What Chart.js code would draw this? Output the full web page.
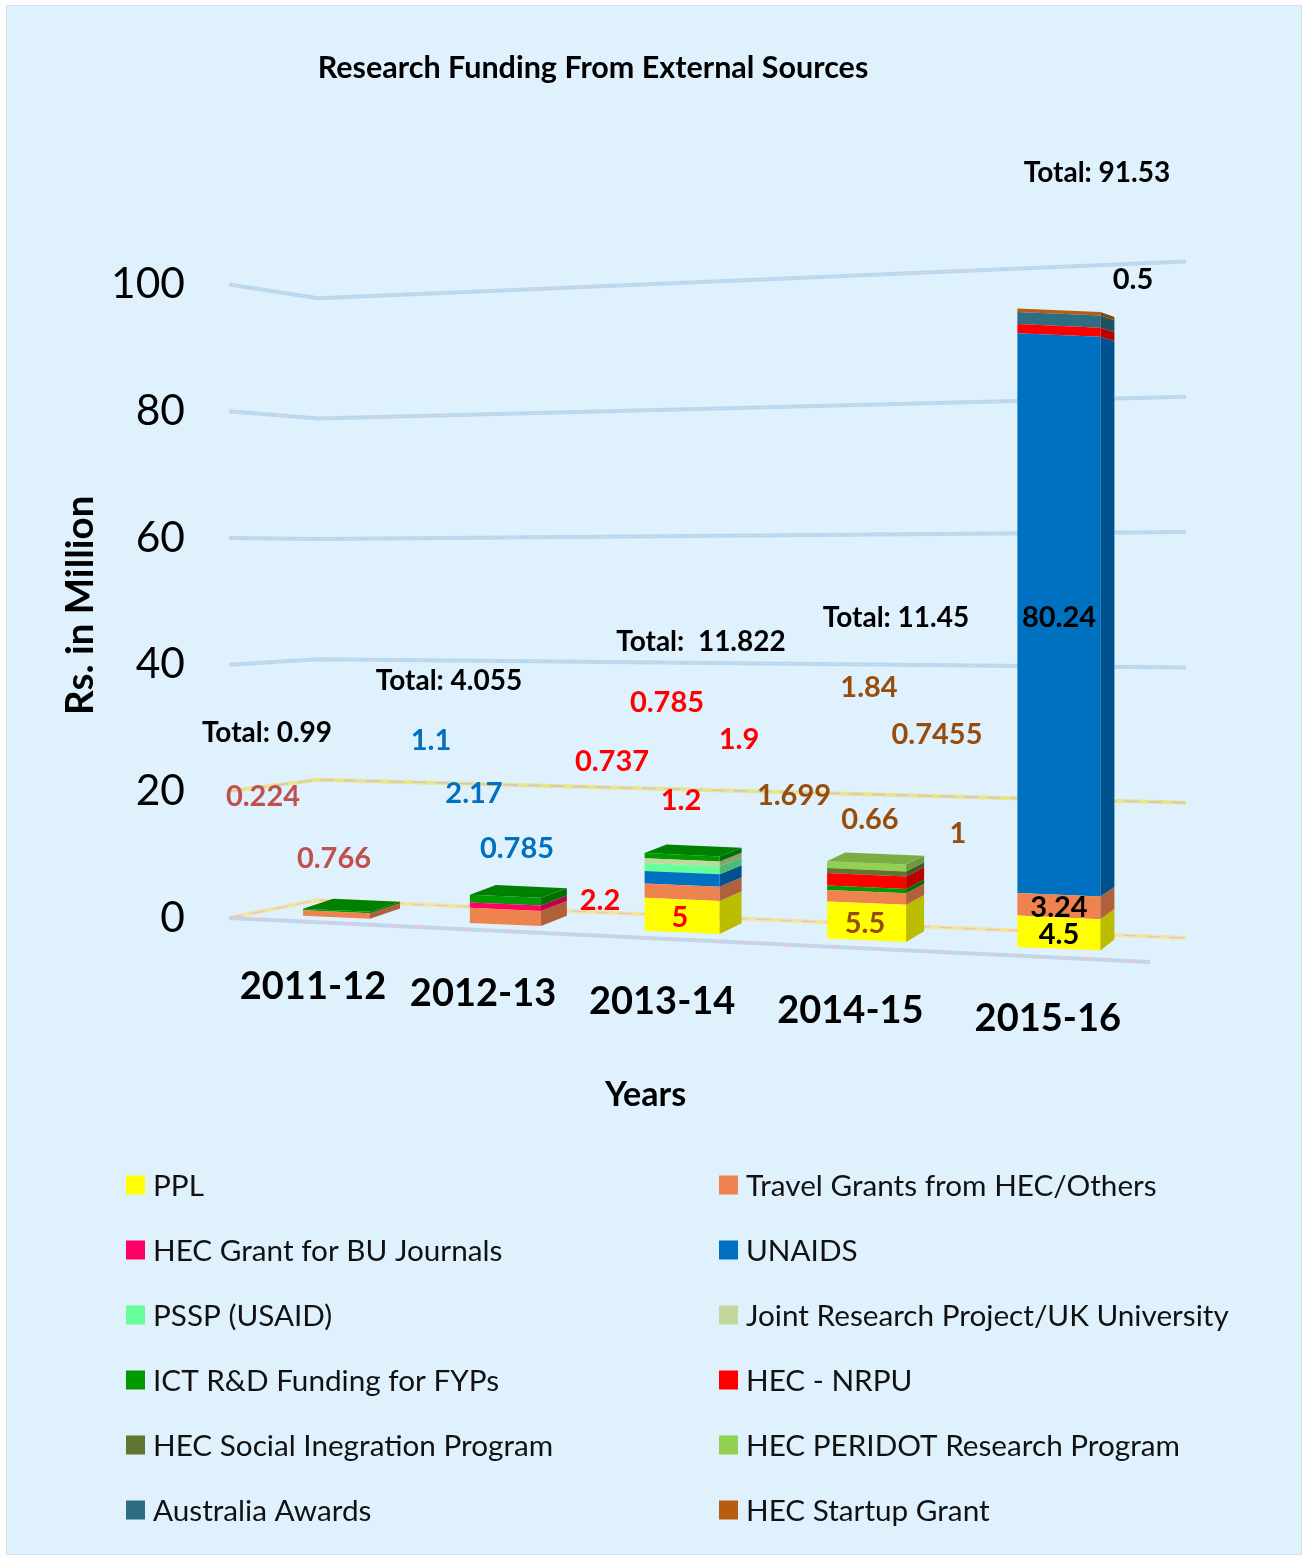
<!DOCTYPE html>
<html><head><meta charset="utf-8">
<script src="https://cdn.jsdelivr.net/npm/chart.js@4"></script>
<style>
html,body{margin:0;padding:0;background:#fff}
#frame{position:absolute;left:6px;top:5px;width:1296px;height:1550px;background:#dff1fd;border:1px solid #d3e0ea;box-sizing:border-box}
canvas{position:absolute;left:0;top:0}
</style></head><body>
<div id="frame"></div>
<canvas id="c" width="1306" height="1556" style="width:1306px;height:1556px"></canvas>
<script>
const categories=["2011-12","2012-13","2013-14","2014-15","2015-16"];
const ppl=[null,null,5,5.5,4.5];
const travelGrants=[0.766,2.17,2.2,1.699,3.24];
const buJournals=[null,0.785,null,null,null];
const unaids=[null,null,1.9,null,80.24];
const pssp=[null,null,1.2,null,null];
const jointResearch=[null,null,0.737,null,null];
const ictFunding=[0.224,1.1,0.785,0.66,null];
const nrpu=[null,null,null,1.84,1.3];
const socialIntegration=[null,null,null,0.7455,null];
const peridot=[null,null,null,1,null];
const australiaAwards=[null,null,null,null,1.75];
const startupGrant=[null,null,null,null,0.5];
const totals=["Total: 0.99","Total: 4.055","Total:  11.822","Total: 11.45","Total: 91.53"];
const yTicks=[0,20,40,60,80,100];

const seriesNames=["PPL","Travel Grants from HEC/Others","HEC Grant for BU Journals","UNAIDS","PSSP (USAID)","Joint Research Project/UK University","ICT R&D Funding for FYPs","HEC - NRPU","HEC Social Inegration Program","HEC PERIDOT Research Program","Australia Awards","HEC Startup Grant"];
const seriesValues=[ppl,travelGrants,buJournals,unaids,pssp,jointResearch,ictFunding,nrpu,socialIntegration,peridot,australiaAwards,startupGrant];
const seriesColors=["#ffff00","#ee8350","#ff0066","#0070c0","#66ff99","#c3d69b","#009900","#ff0000","#5f7530","#92d050","#2d6e82","#b85c10"];

// annotation layout: [series index, category index, x, y]
const valueLabelPlaces=[[6,0,263,797],[1,0,334,859],
 [6,1,431,741],[1,1,474,794],[2,1,517,849],
 [6,2,667,703],[3,2,739,740],[5,2,612,762],[4,2,681,801],[1,2,600,901],[0,2,680,918],
 [7,3,869,688],[8,3,937,735],[1,3,794,796],[6,3,870,820],[9,3,958,834],[0,3,865,924],
 [11,4,1133,280],[3,4,1059,618],[1,4,1059,908],[0,4,1059,935]];
const categoryLabelColors=["#c0504d","#0070c0","#ff0000","#974c0c","#000000"];
const totalPlaces=[[267,733],[449,681],[701,642],[896,618],[1097,173]];

const FONT="Lato";
const SKEW=0.0437, SKEW_X=355.6;      // floor slope of the picture
const EYE=509, DEPTH_K=0.0249;        // receding edge slope
const DEPTH_SCALE=[1,1,0.94,0.97,1];  // foreshortening of the mid-depth columns
const lift=(x,y)=>y+SKEW*(x-SKEW_X);
const dark=(hex,f)=>{const n=parseInt(hex.slice(1),16);return `rgb(${(n>>16&255)*f|0},${(n>>8&255)*f|0},${(n&255)*f|0})`};

const perspective={
 id:"perspective",
 afterDatasetsUpdate(chart){
  const floor=chart.chartArea.bottom;
  chart.data.datasets.forEach((d,di)=>{
   chart.getDatasetMeta(di).data.forEach((el,i)=>{
    el.x=336.5+165*i+3.9*i*i;
    el.width=67+4*i;
    el.y=floor+(el.y-floor)*DEPTH_SCALE[i];
    el.base=floor+(el.base-floor)*DEPTH_SCALE[i];
   });
  });
 },
 afterLayout(chart){
  chart.titleBlock.right=1186;
  const sx=chart.scales.x, sy=chart.scales.y;
  if(!sx._wrapped){
   sx._wrapped=true;
   const orig=sx.drawTitle.bind(sx);
   sx.drawTitle=function(){const c=chart.ctx;c.save();c.translate(-62,0);orig();c.restore();};
   const origY=sy.drawTitle.bind(sy);
   sy.drawTitle=function(){const c=chart.ctx;c.save();c.translate(0,4);origY();c.restore();};
  }
 },
 beforeDraw(chart){
  const sx=chart.scales.x;
  sx.getLabelItems().forEach((it,i)=>{
   if(it._placed)return; it._placed=true;
   it.options.translation[0]=313+165.5*i+4.55*i*i;
   it.options.translation[1]+=SKEW*(it.options.translation[0]-313);
  });
 },
 beforeDatasetsDraw(chart){
  const {ctx,chartArea:a,scales}=chart, y=scales.y;
  ctx.save();
  const stroke=(pts,base,core)=>{
   ctx.lineJoin="round";
   ctx.beginPath();pts.forEach((p,i)=>i?ctx.lineTo(p[0],p[1]):ctx.moveTo(p[0],p[1]));
   ctx.strokeStyle=base;ctx.lineWidth=4;ctx.setLineDash([]);ctx.stroke();
   ctx.strokeStyle=core;ctx.lineWidth=1.4;ctx.setLineDash([14,9]);ctx.stroke();
  };
  yTicks.forEach(v=>{
   const p=y.getPixelForValue(v),d=p-a.bottom;
   const pts=[[a.left,p],[318,900+d*0.95],[a.right,938+d*1.068]];
   if(v===0) stroke(pts,"#f3e6a0","#e7c3d0");
   else if(v===20) stroke(pts,"#e9e58c","#c9c6cf");
   else stroke(pts,"#b5d9f2","#d9d5d8");
  });
  stroke([[a.left,a.bottom],[1150,962]],"#bcd8ef","#efc3cf");
  ctx.restore();
  ctx.save();
  ctx.transform(1,SKEW,0,1,-0,-SKEW*SKEW_X);
 },
 afterDatasetsDraw(chart){
  const {ctx}=chart;
  ctx.restore();
  ctx.save();
  categories.forEach((_,i)=>{
   const side=30-4*i;let topEl=null,topColor=null;
   chart.data.datasets.forEach((d,di)=>{
    const el=chart.getDatasetMeta(di).data[i];
    if(d.data[i]==null)return;
    const r=el.x+el.width/2;
    const yt=lift(r,el.y), yb=lift(r,el.base);
    const bt=yt-(yt-EYE)*DEPTH_K, bb=yb-(yb-EYE)*DEPTH_K;
    ctx.fillStyle=dark(d.backgroundColor,0.74);
    ctx.beginPath();ctx.moveTo(r,yt);ctx.lineTo(r+side,bt);ctx.lineTo(r+side,bb);ctx.lineTo(r,yb);ctx.closePath();ctx.fill();
    topEl=el;topColor=d.backgroundColor;
   });
   if(topEl){
    const l=topEl.x-topEl.width/2,r=topEl.x+topEl.width/2;
    const yl=lift(l,topEl.y),yr=lift(r,topEl.y);
    const dl=(yl-EYE)*DEPTH_K,dr=(yr-EYE)*DEPTH_K;
    if(dr>0){
     ctx.fillStyle=dark(topColor,0.84);
     ctx.beginPath();ctx.moveTo(l,yl);ctx.lineTo(r,yr);ctx.lineTo(r+side,yr-dr);ctx.lineTo(l+side,yl-dl);ctx.closePath();ctx.fill();
    }
   }
  });
  ctx.restore();
 },
 afterDraw(chart){
  const {ctx}=chart;
  ctx.save();
  ctx.textAlign="center";ctx.textBaseline="middle";
  ctx.font=`bold 29px ${FONT}`;
  valueLabelPlaces.forEach(([s,c,x,y])=>{
   ctx.fillStyle=categoryLabelColors[c];
   ctx.fillText(String(seriesValues[s][c]),x,y);
  });
  ctx.font=`bold 28px ${FONT}`;ctx.fillStyle="#000";
  totalPlaces.forEach(([x,y],i)=>ctx.fillText(totals[i],x,y));
  // two-column legend from the library's own legend items
  const items=Chart.defaults.plugins.legend.labels.generateLabels(chart);
  ctx.textAlign="left";ctx.font=`29.7px ${FONT}`;
  items.forEach((it,i)=>{
   const col=i%2,row=(i-col)/2;
   const sx=col?719:126, cy=1185+65*row;
   ctx.fillStyle=it.fillStyle;ctx.fillRect(sx,cy-9.5,19,19);
   ctx.fillStyle="#111";ctx.fillText(it.text,sx+27,cy+1);
  });
  ctx.restore();
 }
};

new Chart(document.getElementById("c"),{
 type:"bar",
 plugins:[perspective],
 data:{labels:categories,datasets:seriesNames.map((n,i)=>({
  label:n,data:seriesValues[i],backgroundColor:seriesColors[i],borderWidth:0,
  yAxisID:"yBar",stack:"s",clip:false}))},
 options:{
  responsive:false,animation:false,events:[],
  layout:{padding:{left:0,right:120,top:0,bottom:0}},
  plugins:{
   legend:{display:false},tooltip:{enabled:false},
   title:{display:true,text:"Research Funding From External Sources",color:"#000",
    font:{family:FONT,size:30.5,weight:"bold"},padding:{top:50,bottom:198}}
  },
  scales:{
   x:{stacked:true,grid:{display:false},border:{display:false},
    afterFit(s){s.height=638;},
    ticks:{color:"#000",font:{family:FONT,size:38,weight:"bold"},padding:38,maxRotation:0},
    title:{display:true,text:"Years",color:"#000",font:{family:FONT,size:34,weight:"bold"},padding:{top:0,bottom:441}}},
   y:{position:"left",min:0,max:100,grid:{display:false},border:{display:false},
    afterFit(s){s.width=229;},
    afterBuildTicks(s){s.ticks=yTicks.map(v=>({value:v}));},
    ticks:{color:"#000",font:{family:FONT,size:42.5},padding:36},
    title:{display:true,text:"Rs. in Million",color:"#000",font:{family:FONT,size:38.5,weight:"bold"},padding:{top:57,bottom:0}}},
   yBar:{display:false,stacked:true,min:0,max:90.8,position:"right"}
  }
 }
});
</script>
</body></html>
